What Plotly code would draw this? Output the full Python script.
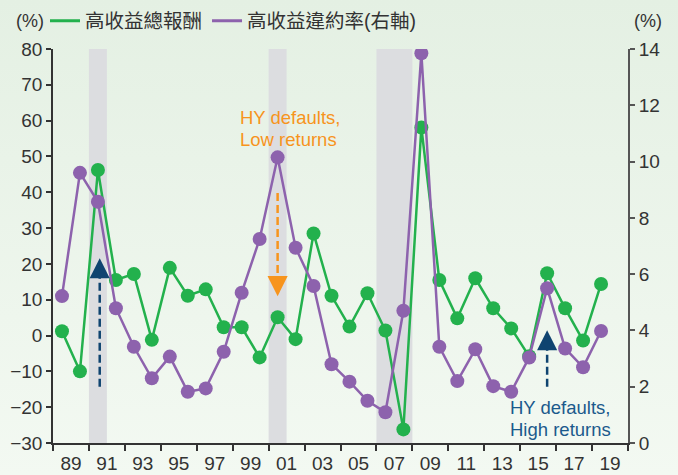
import base64
import plotly.graph_objects as go
from plotly.subplots import make_subplots

# ---------------- data ----------------
years = list(range(1989, 2020))
hy_total_return = [1.2, -10.0, 46.2, 15.5, 17.2, -1.2, 18.9, 11.1, 12.9, 2.3, 2.3, -6.1,
                   5.1, -1.0, 28.5, 11.1, 2.5, 11.8, 1.4, -26.2, 58.1, 15.5, 4.8, 16.0,
                   7.6, 2.0, -5.8, 17.4, 7.6, -1.4, 14.4]
hy_default_rate = [5.22, 9.6, 8.57, 4.79, 3.42, 2.30, 3.07, 1.82, 1.94, 3.24, 5.34, 7.25,
                   10.15, 6.94, 5.58, 2.8, 2.18, 1.5, 1.09, 4.7, 13.85, 3.42, 2.2, 3.33,
                   2.02, 1.82, 3.04, 5.5, 3.36, 2.69, 3.98]
tick_labels = ['89', '91', '93', '95', '97', '99', '01', '03', '05', '07', '09', '11',
               '13', '15', '17', '19']
recessions = [(1990.5, 1991.5), (2000.5, 2001.5), (2006.5, 2008.5)]
name_return = '高收益總報酬'
name_default = '高收益違約率(右軸)'

GREEN = '#23b14d'
PURPLE = '#8d62ad'
ORANGE = '#f7941d'
BLUE_TXT = '#1b5a8c'
BLUE_ARR = '#0f4470'
AXIS = '#333333'
FONT = 'Liberation Sans, Arial, Noto Sans CJK TC, sans-serif'

W, H = 678, 475
ML, MR, MT, MB = 53, 50, 49, 32
PW, PH = W - ML - MR, H - MT - MB

fig = make_subplots(specs=[[{"secondary_y": True}]])

# legend-only traces
fig.add_trace(go.Scatter(x=[None], y=[None], mode='lines', name=name_return,
                         line=dict(color=GREEN, width=3)), secondary_y=False)
fig.add_trace(go.Scatter(x=[None], y=[None], mode='lines', name=name_default,
                         line=dict(color=PURPLE, width=3)), secondary_y=False)

fig.add_trace(go.Scatter(x=years, y=hy_total_return, mode='lines+markers', showlegend=False,
                         line=dict(color=GREEN, width=2.5),
                         marker=dict(color=GREEN, size=14)), secondary_y=False)
fig.add_trace(go.Scatter(x=years, y=hy_default_rate, mode='lines+markers', showlegend=False,
                         line=dict(color=PURPLE, width=2.5),
                         marker=dict(color=PURPLE, size=14)), secondary_y=True)

# recession bands
for x0, x1 in recessions:
    fig.add_shape(type='rect', xref='x', yref='y', x0=x0, x1=x1, y0=-30, y1=80,
                  fillcolor='#dcdde0', line=dict(width=0), layer='below')

# dashed arrows (shaft as dashed line, head as annotation arrow)
def arrow(x, y_tail, y_tip, color, up):
    head = 18 / 3.582
    y_end = y_tip - head if up else y_tip + head
    fig.add_shape(type='line', xref='x', yref='y', x0=x, x1=x, y0=y_tail, y1=y_end,
                  line=dict(color=color, width=2.5, dash='8px,4px'))
    fig.add_annotation(x=x, y=y_tip, xref='x', yref='y', text='', showarrow=True,
                       ax=0, ay=(12 if up else -12), arrowhead=2, arrowsize=1.55,
                       arrowwidth=2.6, arrowcolor=color)

arrow(1991.1, -14.3, 21.6, BLUE_ARR, True)
arrow(2016.0, -14.3, 1.5, BLUE_ARR, True)
arrow(2001.0, 39.8, 11.0, ORANGE, False)

def label(x, y, text, color):
    fig.add_annotation(x=x, y=y, xref='x', yref='y', text=text, showarrow=False,
                       xanchor='left', yanchor='middle', borderpad=0,
                       font=dict(family=FONT, size=18.5, color=color))

label(1998.85, 60.8, 'HY defaults,', ORANGE)
label(1998.85, 54.7, 'Low returns', ORANGE)
label(2013.85, -20.1, 'HY defaults,', BLUE_TXT)
label(2013.85, -26.2, 'High returns', BLUE_TXT)

# unit labels
fig.add_annotation(xref='paper', yref='paper', x=(14 - ML) / PW, y=1 + (MT - 21) / PH,
                   xanchor='left', yanchor='middle', text='(%)', showarrow=False,
                   font=dict(family=FONT, size=18, color=AXIS))
fig.add_annotation(xref='paper', yref='paper', x=(632 - ML) / PW, y=1 + (MT - 21) / PH,
                   xanchor='left', yanchor='middle', text='(%)', showarrow=False,
                   font=dict(family=FONT, size=18, color=AXIS))

# gradient background
svg = ('<svg xmlns="http://www.w3.org/2000/svg" width="678" height="475">'
       '<defs><linearGradient id="g" x1="0" y1="0" x2="0" y2="1">'
       '<stop offset="0" stop-color="#e4f0e3"/><stop offset="1" stop-color="#f3f9f2"/>'
       '</linearGradient></defs><rect width="678" height="475" fill="url(#g)"/></svg>')
src = 'data:image/svg+xml;base64,' + base64.b64encode(svg.encode()).decode()
fig.add_layout_image(source=src, xref='paper', yref='paper', x=-ML / PW, y=1 + MT / PH,
                     sizex=W / PW, sizey=H / PH, xanchor='left', yanchor='top',
                     sizing='stretch', layer='below')

label_pos = [int('19' + t) + 0.5 if int(t) > 50 else int('20' + t) + 0.5 for t in tick_labels]
minor_pos = [p - 1 for p in label_pos] + [label_pos[-1] + 1]

fig.update_xaxes(range=[1988.5, 2020.5], domain=[0, 1], showgrid=False, zeroline=False,
                 showline=True, linecolor=AXIS, linewidth=1.5,
                 tickmode='array', tickvals=label_pos, ticktext=tick_labels, ticks='',
                 ticklabelstandoff=2, automargin=False,
                 minor=dict(tickmode='array', tickvals=minor_pos, ticks='outside',
                            ticklen=6, tickwidth=1.5, tickcolor=AXIS),
                 tickfont=dict(family=FONT, size=19, color=AXIS))
fig.update_yaxes(range=[-30, 80], dtick=10, showgrid=False, zeroline=False,
                 showline=True, linecolor=AXIS, linewidth=1.5, ticks='outside',
                 ticklen=5, tickwidth=1.5, tickcolor=AXIS, automargin=False,
                 tickfont=dict(family=FONT, size=19, color=AXIS), secondary_y=False)
fig.update_yaxes(range=[0, 14], dtick=2, showgrid=False, zeroline=False,
                 showline=True, linecolor='#555555', linewidth=2, ticks='outside',
                 ticklen=5, tickwidth=1.5, tickcolor='#555555', automargin=False,
                 tickfont=dict(family=FONT, size=19, color=AXIS), secondary_y=True)

fig.update_layout(
    width=W, height=H,
    margin=dict(l=ML, r=MR, t=MT, b=MB, autoexpand=False),
    paper_bgcolor='#ebf4ea', plot_bgcolor='rgba(0,0,0,0)',
    font=dict(family=FONT, color=AXIS),
    legend=dict(orientation='h', x=(45 - ML) / PW, xanchor='left',
                y=1 + (MT - 21) / PH, yanchor='middle',
                font=dict(family=FONT, size=19.5, color=AXIS),
                bgcolor='rgba(0,0,0,0)', itemwidth=30),
)

fig.write_html('out.html', config={'displayModeBar': False},
               post_script="document.body.style.margin='0px';")
